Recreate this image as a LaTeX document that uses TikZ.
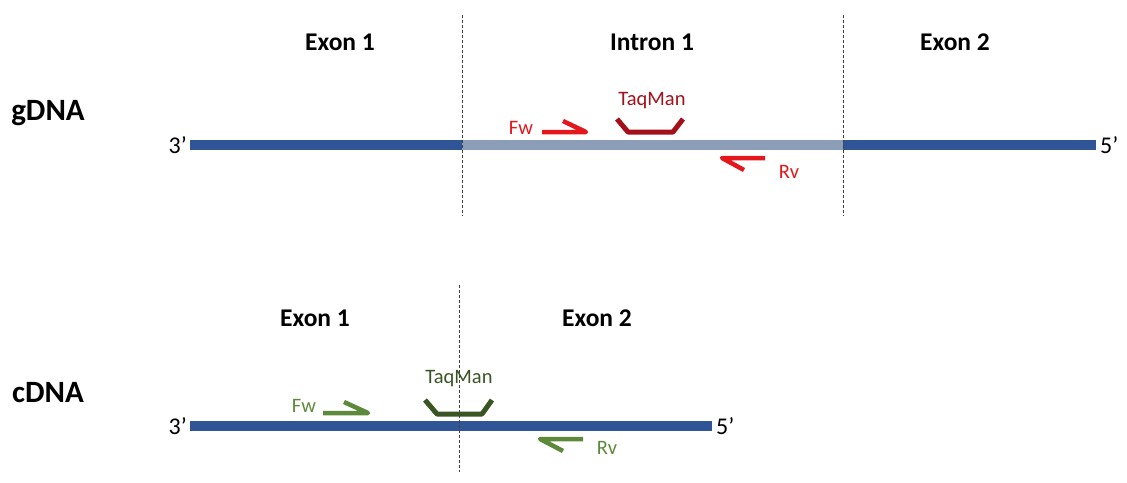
\documentclass[tikz,border=0pt]{standalone}
\usepackage{fontspec}
\setmainfont{Carlito}
\usetikzlibrary{positioning,calc}
\definecolor{dnaBlue}{HTML}{2F5597}
\definecolor{dnaIntron}{HTML}{8C9DB8}
\definecolor{gPrimer}{HTML}{E3171C}
\definecolor{gProbe}{HTML}{A3101A}
\definecolor{cPrimer}{HTML}{5C8A3A}
\definecolor{cProbe}{HTML}{3A5524}
\tikzset{
  strand/.style={line width=10pt, dnaBlue},
  intron/.style={line width=10pt, dnaIntron},
  boundary/.style={dash pattern=on 3pt off 2pt, line width=0.9pt, black!75},
  region/.style={font=\fontsize{25.5}{30}\selectfont\bfseries},
  sample/.style={font=\fontsize{31}{36}\selectfont\bfseries},
  endlabel/.style={font=\fontsize{24}{28}\selectfont, inner sep=2pt},
  oligo/.style={font=\fontsize{20.5}{24}\selectfont, inner sep=1pt},
  primer/.style={line width=4.5pt, line join=round},
  probe/.style={line width=5pt, line join=round}
}
\begin{document}
\begin{tikzpicture}[x=1pt, y=-1pt]
  \useasboundingbox (0,0) rectangle (1127,482);

  % gDNA
  \node[sample] (gdna) at (48,113) {gDNA};
  \coordinate (g1) at (190,145);
  \coordinate (g2) at (462,145);
  \coordinate (g3) at (843,145);
  \coordinate (g4) at (1096,145);
  \draw[strand] (g1) -- (g2);
  \draw[intron] (g2) -- (g3);
  \draw[strand] (g3) -- (g4);
  \node[endlabel, left=1pt of g1] (g3end) {3’};
  \node[endlabel, right=2pt of g4] (g5end) {5’};
  \draw[boundary] (462,15) -- (462,216);
  \draw[boundary] (843,15) -- (843,216);
  \node[region] (gex1) at (340,42) {Exon 1};
  \node[region] (gint) at (652,42) {Intron 1};
  \node[region] (gex2) at (955,42) {Exon 2};

  \draw[primer, gPrimer] (542,132) -- (586,132) -- (563,121);
  \node[oligo, gPrimer] (gfw) at (521,128) {Fw};
  \draw[probe, gProbe] (617,119) -- (628,132) -- (673,132) -- (683,119);
  \node[oligo, gProbe] (gtaq) at (652,101) {TaqMan};
  \draw[primer, gPrimer] (765,158) -- (722,158) -- (744,170);
  \node[oligo, gPrimer] (grv) at (789,172) {Rv};

  % cDNA
  \node[sample] (cdna) at (48,393) {cDNA};
  \coordinate (c1) at (190,426);
  \coordinate (c2) at (712,426);
  \draw[strand] (c1) -- (c2);
  \node[endlabel, left=1pt of c1] (c3end) {3’};
  \node[endlabel, right=2pt of c2] (c5end) {5’};
  \draw[boundary] (459,285) -- (459,472);
  \node[region] (cex1) at (315,318) {Exon 1};
  \node[region] (cex2) at (597,318) {Exon 2};

  \draw[primer, cPrimer] (323,413) -- (368,413) -- (344,402);
  \node[oligo, cPrimer] (cfw) at (304,406) {Fw};
  \draw[probe, cProbe] (425,400) -- (437,414) -- (482,414) -- (492,400);
  \node[oligo, cProbe] (ctaq) at (459,379) {TaqMan};
  \draw[primer, cPrimer] (583,439) -- (540,439) -- (563,451);
  \node[oligo, cPrimer] (crv) at (607,448) {Rv};
\end{tikzpicture}
\end{document}
